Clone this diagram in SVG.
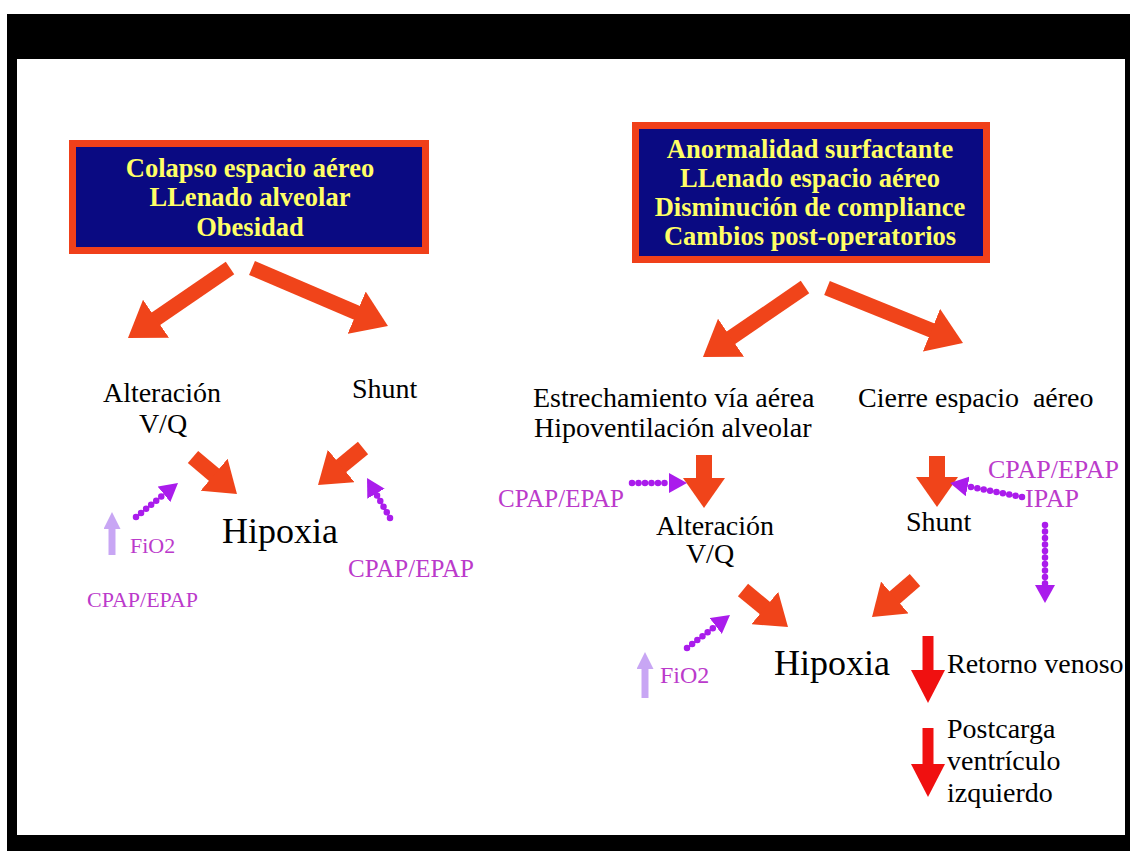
<svg xmlns="http://www.w3.org/2000/svg" width="1130" height="851" viewBox="0 0 1130 851">
<style>
.t{font-family:"Liberation Serif","Times New Roman",serif;font-size:28px;fill:#000}
.hx{font-size:36px}
.bt{font-family:"Liberation Serif","Times New Roman",serif;font-size:26.5px;font-weight:bold;fill:#ffff66;text-anchor:middle}
.p{font-family:"Liberation Serif","Times New Roman",serif;fill:#bb3acb}
.box{fill:#0a0a82;stroke:#f0401a;stroke-width:7}
.ao{stroke:#f0441a;stroke-width:15;fill:none;marker-end:url(#ho)}
.as{stroke:#f0441a;stroke-width:16;fill:none;marker-end:url(#hs)}
.ar{stroke:#f01010;stroke-width:11;fill:none;marker-end:url(#hr)}
.ap{stroke:#aa1cec;stroke-width:6.5;stroke-dasharray:0 6.5;stroke-linecap:round;fill:none;marker-end:url(#hp)}
.al{stroke:#c8a6f4;stroke-width:7;fill:none;marker-end:url(#hl)}
</style>
<defs>
<marker id="ho" markerUnits="userSpaceOnUse" viewBox="0 0 34 46" markerWidth="34" markerHeight="46" refX="1" refY="23" orient="auto"><path d="M0,0L34,23L0,46z" fill="#f0441a"/></marker>
<marker id="hs" markerUnits="userSpaceOnUse" viewBox="0 0 30 42" markerWidth="30" markerHeight="42" refX="1" refY="21" orient="auto"><path d="M0,0L30,21L0,42z" fill="#f0441a"/></marker>
<marker id="hr" markerUnits="userSpaceOnUse" viewBox="0 0 33 34" markerWidth="33" markerHeight="34" refX="1" refY="17" orient="auto"><path d="M0,0L33,17L0,34z" fill="#f01010"/></marker>
<marker id="hp" markerUnits="userSpaceOnUse" viewBox="0 0 18 20" markerWidth="18" markerHeight="20" refX="1" refY="10" orient="auto"><path d="M0,0L18,10L0,20z" fill="#aa1cec"/></marker>
<marker id="hl" markerUnits="userSpaceOnUse" viewBox="0 0 17 17" markerWidth="17" markerHeight="17" refX="1" refY="8.5" orient="auto"><path d="M0,0L17,8.5L0,17z" fill="#c8a6f4"/></marker>
</defs>
<rect width="1130" height="851" fill="#fff"/>
<rect x="7" y="14" width="1123" height="837" fill="#000"/>
<rect x="17" y="59" width="1108" height="776" fill="#fff"/>

<g id="box-left">
<rect class="box" x="72.5" y="143.5" width="353" height="107"/>
<text class="bt" x="250" y="177">Colapso espacio aéreo</text>
<text class="bt" x="250" y="206">LLenado alveolar</text>
<text class="bt" x="250" y="236">Obesidad</text>
</g>
<g id="box-right">
<rect class="box" x="635.5" y="125.5" width="351" height="134"/>
<text class="bt" x="810" y="158">Anormalidad surfactante</text>
<text class="bt" x="810" y="187">LLenado espacio aéreo</text>
<text class="bt" x="810" y="216">Disminución de compliance</text>
<text class="bt" x="810" y="245">Cambios post-operatorios</text>
</g>

<g id="alt-left"><text class="t" x="162" y="402" text-anchor="middle">Alteración</text><text class="t" x="163" y="433" text-anchor="middle">V/Q</text></g>
<g id="shunt-left"><text class="t" x="352" y="398">Shunt</text></g>
<g id="hipoxia-left"><text class="t hx" x="222" y="543">Hipoxia</text></g>
<g id="fio2-left"><text class="p" x="130" y="553" font-size="22">FiO2</text></g>
<g id="cpap-left-1"><text class="p" x="87" y="607" font-size="22">CPAP/EPAP</text></g>
<g id="cpap-left-2"><text class="p" x="348" y="577" font-size="25">CPAP/EPAP</text></g>

<g id="estrech"><text class="t" x="533" y="407">Estrechamiento vía aérea</text><text class="t" x="534" y="437">Hipoventilación alveolar</text></g>
<g id="cierre"><text class="t" x="858" y="407" xml:space="preserve">Cierre espacio  aéreo</text></g>
<g id="cpap-right-1"><text class="p" x="498" y="507" font-size="25">CPAP/EPAP</text></g>
<g id="alt-right"><text class="t" x="715" y="535" text-anchor="middle">Alteración</text><text class="t" x="710" y="563" text-anchor="middle">V/Q</text></g>
<g id="shunt-right"><text class="t" x="906" y="531">Shunt</text></g>
<g id="cpap-ipap"><text class="p" x="988" y="478" font-size="26">CPAP/EPAP</text><text class="p" x="1025" y="507" font-size="26">IPAP</text></g>
<g id="hipoxia-right"><text class="t hx" x="774" y="675">Hipoxia</text></g>
<g id="fio2-right"><text class="p" x="660" y="683" font-size="24">FiO2</text></g>
<g id="retorno"><text class="t" x="947" y="673">Retorno venoso</text></g>
<g id="postcarga"><text class="t" x="947" y="738">Postcarga</text><text class="t" x="947" y="770">ventrículo</text><text class="t" x="947" y="802">izquierdo</text></g>

<g id="connectors">
<path class="ao" d="M230,268L155.2,319.3"/>
<path class="ao" d="M252,268L357.6,313.1"/>
<path class="ao" d="M805,287L730.2,338.3"/>
<path class="ao" d="M827,288L932.4,330.6"/>
<path class="as" d="M193,457L214.8,475.4"/>
<path class="as" d="M363,448L340.4,466.6"/>
<path class="as" d="M743,590L765.6,608.6"/>
<path class="as" d="M915,580L894,598.1"/>
<path class="as" d="M704,455L704,479"/>
<path class="as" d="M937,456L937,478"/>
<path class="ar" d="M928,636L928,671"/>
<path class="ar" d="M928,728L928,765"/>
<path class="ap" d="M136,517L164.8,493.7"/>
<path class="ap" d="M390,518L375.5,492.8"/>
<path class="ap" d="M632,483L670,483"/>
<path class="ap" d="M1022,497L966.7,486.2"/>
<path class="ap" d="M1045,525L1045,586"/>
<path class="ap" d="M687,648L716.5,625.4"/>
<path class="al" d="M112,555L112,528"/>
<path class="al" d="M645,698L645,668"/>
</g>
</svg>
